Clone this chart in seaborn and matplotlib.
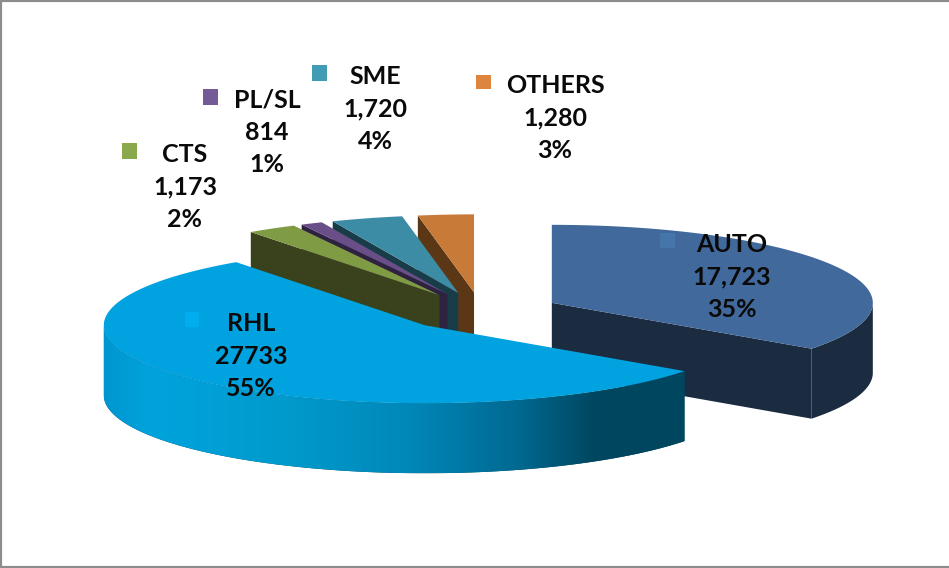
import numpy as np
import matplotlib
matplotlib.use('Agg')
import matplotlib.pyplot as plt
from matplotlib.colors import LinearSegmentedColormap
from matplotlib.patches import Polygon, Rectangle
import seaborn as sns

# Data
names = ['AUTO', 'RHL', 'CTS', 'PL/SL', 'SME', 'OTHERS']
value_labels = ['17,723', '27733', '1,173', '814', '1,720', '1,280']
pct_labels = ['35%', '55%', '2%', '1%', '4%', '3%']
# the drawn slice sizes, the small ones differ a bit from their rounded labels
shares = [35, 55, 2.5, 1.1, 3.6, 2.8]

top_colors = ['#41699b', '#00a3e0', '#7f9c45', '#6a4e88', '#3d8ca6', '#c87a38']
side_colors = ['#1b2b40', '#00465f', '#39421c', '#2f2240', '#183c48', '#5c3715']
key_colors = ['#4675ab', '#00aeef', '#8aa84c', '#745a96', '#429bb5', '#dd843e']

# pixel layout of the pie
cx, cy = 481, 311.6
rx, ry = 321, 78
depth = 70
explode = 0.2476

# label centre and key square (left, top, w, h)
label_pos = [(732, 277), (251, 356), (185, 187), (267, 132), (375, 109), (555, 118)]
key_pos = [(660, 233, 15, 15), (185, 312, 14, 15), (122, 143, 15, 16),
           (203, 89, 15, 16), (312, 65, 15, 16), (476, 75, 15, 14)]

sns.set_theme(style='white')
plt.rcParams['font.family'] = ['Lato', 'DejaVu Sans']

fig = plt.figure(figsize=(9.49, 5.68), dpi=100)
ax = fig.add_axes([0, 0, 1, 1])


def rim_point(ox, oy, deg):
    t = np.radians(deg)
    return ox + rx * np.sin(t), oy - ry * np.cos(t)


def arc(ox, oy, a, b):
    t = np.linspace(a, b, 150)
    return np.column_stack(rim_point(ox, oy, t))


edges = np.cumsum([0] + shares) * 360 / sum(shares)

# back to front: AUTO, then the small slices from the right, RHL last
z = 1
for i in [0, 5, 4, 3, 2, 1]:
    a, b = edges[i], edges[i + 1]
    mid = np.radians((a + b) / 2)
    ox = cx + explode * rx * np.sin(mid)
    oy = cy - explode * ry * np.cos(mid)

    # radial wall that faces the viewer
    if a > 180:
        p = rim_point(ox, oy, a)
        wall = [(ox, oy), p, (p[0], p[1] + depth), (ox, oy + depth)]
        ax.add_patch(Polygon(wall, fc=side_colors[i], ec='none', zorder=z))
    if b < 180:
        p = rim_point(ox, oy, b)
        wall = [(ox, oy), p, (p[0], p[1] + depth), (ox, oy + depth)]
        ax.add_patch(Polygon(wall, fc=side_colors[i], ec='none', zorder=z))

    # outer wall, only the front half of the circle shows
    lo, hi = max(a, 90), min(b, 270)
    if lo < hi:
        upper = arc(ox, oy, lo, hi)
        lower = upper[::-1] + [0, depth]
        rim = Polygon(np.vstack([upper, lower]), fc=side_colors[i], ec='none', zorder=z)
        ax.add_patch(rim)
        if names[i] == 'RHL':
            x0, x1 = upper[:, 0].min(), upper[:, 0].max()
            shade = LinearSegmentedColormap.from_list(
                'rhl', [(0, '#0097cf'), (0.08, '#00a3de'), (0.32, '#009acb'),
                        (0.52, '#0088ba'), (0.71, '#006a92'), (0.85, '#00465f'),
                        (1, '#00465f')])
            img = ax.imshow(np.linspace(0, 1, 400)[None, :], cmap=shade, aspect='auto',
                            extent=(x0, x1, upper[:, 1].max() + depth, upper[:, 1].min()),
                            zorder=z + 0.5)
            img.set_clip_path(rim)

    # top face
    top = np.vstack([[(ox, oy)], arc(ox, oy, a, b)])
    ax.add_patch(Polygon(top, fc=top_colors[i], ec='none', zorder=z + 0.7))
    z += 1

for i, name in enumerate(names):
    left, upper_y, w, h = key_pos[i]
    ax.add_patch(Rectangle((left, upper_y), w, h, fc=key_colors[i], ec='none', zorder=20))
    ax.text(label_pos[i][0], label_pos[i][1],
            f'{name}\n{value_labels[i]}\n{pct_labels[i]}',
            ha='center', va='center', fontsize=18, fontweight='bold',
            color='#0a0a0a', linespacing=1.49, zorder=21)

ax.set_xlim(0, 949)
ax.set_ylim(568, 0)
ax.set_xticks([])
ax.set_yticks([])
for side in ['left', 'top', 'bottom']:
    ax.spines[side].set_visible(True)
    ax.spines[side].set_color('#8c8c8c')
    ax.spines[side].set_linewidth(3)
ax.spines['right'].set_visible(False)

fig.savefig('out.png', dpi=100)
